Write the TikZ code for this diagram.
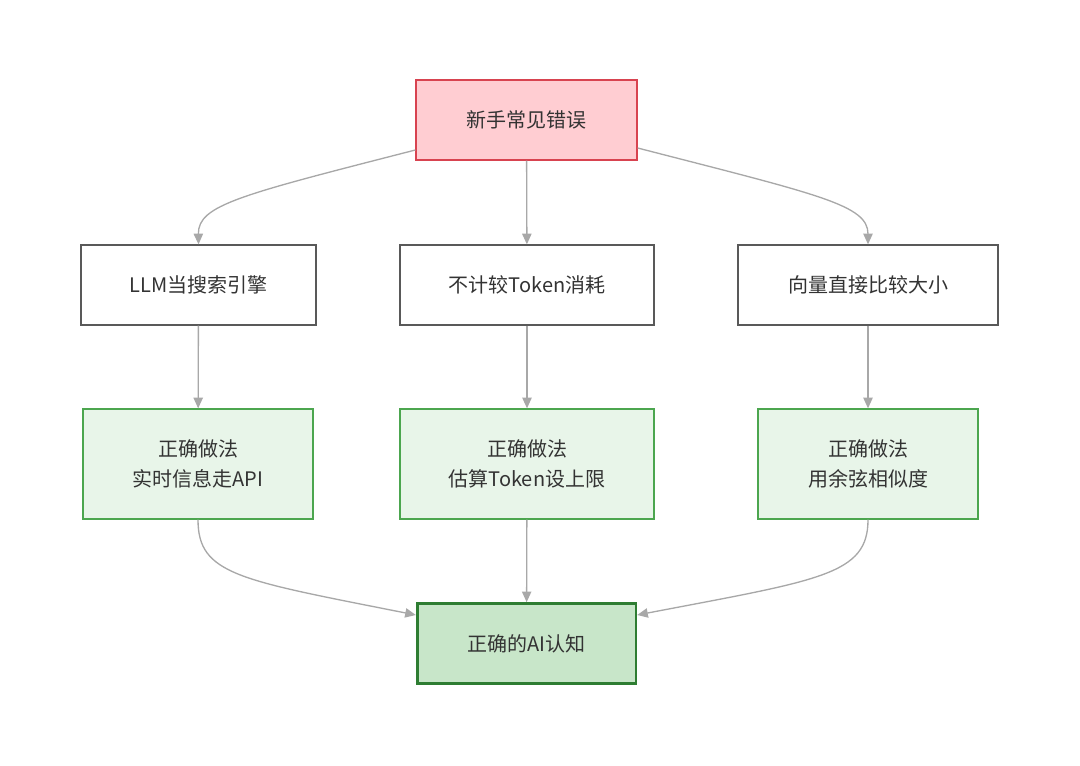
\documentclass[tikz,border=0pt]{standalone}
\usepackage{fontspec}
\setmainfont{Noto Sans CJK SC}
\usetikzlibrary{arrows.meta}
\definecolor{pinkf}{HTML}{FFCDD2}\definecolor{redb}{HTML}{D84350}
\definecolor{grnf}{HTML}{E8F5E9}\definecolor{grnb}{HTML}{4CA64F}
\definecolor{grnf2}{HTML}{C8E6C9}\definecolor{grnb2}{HTML}{2E7D32}
\definecolor{edge}{HTML}{A8A8A8}\definecolor{txt}{HTML}{333333}
\begin{document}
\begin{tikzpicture}[x=0.75pt,y=-0.75pt,
 box/.style={draw, line width=1pt, text=txt, font=\fontsize{15}{22.5}\selectfont, align=center, inner sep=0pt},
 plain/.style={box, draw=black!65, fill=white, minimum height=60pt},
 ok/.style={box, draw=grnb, fill=grnf, minimum height=82.5pt},
 arr/.style={draw=edge, line width=1pt, -{Triangle[length=8pt,width=7pt,fill=edge]}}]
\useasboundingbox (0,0) rectangle (1080,765);
\node[box, draw=redb, fill=pinkf, minimum width=165.75pt, minimum height=60pt] (top) at (526.5,120) {新手常见错误};
\node[plain, minimum width=176.25pt] (a) at (198.5,285) {LLM当搜索引擎};
\node[plain, minimum width=190.5pt] (b) at (527,285) {不计较Token消耗};
\node[plain, minimum width=195pt] (c) at (868,285) {向量直接比较大小};
\node[ok, minimum width=172.5pt] (a2) at (198,464) {正确做法\\实时信息走API};
\node[ok, minimum width=190.5pt] (b2) at (527,464) {正确做法\\估算Token设上限};
\node[ok, minimum width=165pt] (c2) at (868,464) {正确做法\\用余弦相似度};
\node[box, draw=grnb2, fill=grnf2, line width=2pt, minimum width=164pt, minimum height=60pt] (bot) at (526.5,643.5) {正确的AI认知};
\draw[arr] (top.west|-0,150) .. controls (240,195) and (198,205) .. (a.north);
\draw[arr] (top) -- (b);
\draw[arr] (top.east|-0,148) .. controls (820,195) and (868,205) .. (c.north);
\draw[arr] (a) -- (a2);
\draw[arr] (b) -- (b2);
\draw[arr] (c) -- (c2);
\draw[arr] (a2.south) .. controls (198,575) and (240,580) .. (bot.west|-0,615);
\draw[arr] (b2) -- (bot);
\draw[arr] (c2.south) .. controls (868,575) and (820,580) .. (bot.east|-0,615);
\end{tikzpicture}
\end{document}
